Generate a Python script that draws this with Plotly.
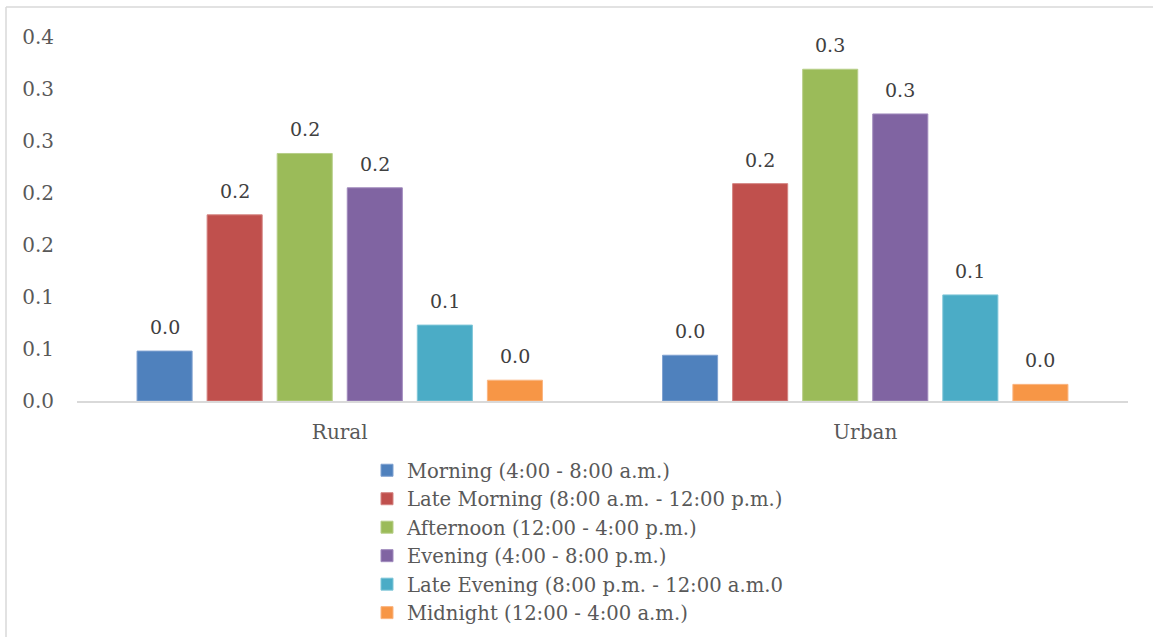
import plotly.graph_objects as go

categories = ["Rural", "Urban"]
series_names = [
    "Morning (4:00 - 8:00 a.m.)",
    "Late Morning (8:00 a.m. - 12:00 p.m.)",
    "Afternoon (12:00 - 4:00 p.m.)",
    "Evening (4:00 - 8:00 p.m.)",
    "Late Evening (8:00 p.m. - 12:00 a.m.0",
    "Midnight (12:00 - 4:00 a.m.)",
]
morning = [0.048, 0.044]
late_morning = [0.179, 0.209]
afternoon = [0.238, 0.319]
evening = [0.205, 0.276]
late_evening = [0.073, 0.102]
midnight = [0.020, 0.016]
series_values = [morning, late_morning, afternoon, evening, late_evening, midnight]

tick_vals = [0, 0.05, 0.10, 0.15, 0.20, 0.25, 0.30, 0.35]
tick_text = ["0.0", "0.1", "0.1", "0.2", "0.2", "0.3", "0.3", "0.4"]

colors = ["#4F81BD", "#C0504D", "#9BBB59", "#8064A2", "#4BACC6", "#F79646"]
edge = ["#7FA1D0", "#D48381", "#B7CE88", "#A08ABD", "#7FC6D8", "#FAB581"]

FONT = "DejaVu Serif"
W, H = 1153, 637
ML, MR, MT, MB = 77, 25, 37, 236
BARGAP = 0.2
N = len(series_names)

fig = go.Figure()
for name, vals, c, e in zip(series_names, series_values, colors, edge):
    fig.add_trace(go.Bar(
        x=categories, y=vals, name=name,
        marker=dict(color=c, line=dict(color=e, width=1)),
    ))

pw = W - ML - MR
ph = H - MT - MB
slot_px = pw / len(categories) * (1 - BARGAP) / N

def px_x(p):
    return (p - ML) / pw
def px_y(p):
    return (H - MB - p) / ph

annotations = []
for i, vals in enumerate(series_values):
    for cat, v in zip(categories, vals):
        annotations.append(dict(
            x=cat, y=v, xref="x", yref="y", text=f"{v:.1f}",
            showarrow=False, yanchor="bottom", xanchor="center",
            xshift=(i - (N - 1) / 2) * slot_px, yshift=11,
            font=dict(family=FONT, size=19, color="#404040"),
        ))

fig.update_layout(
    width=W, height=H,
    margin=dict(l=ML, r=MR, t=MT, b=MB, pad=0, autoexpand=False),
    paper_bgcolor="white", plot_bgcolor="white",
    barmode="group", bargap=BARGAP, bargroupgap=0.214,
    font=dict(family=FONT, color="#595959"),
    showlegend=True,
    legend=dict(
        orientation="v", x=px_x(367), xanchor="left", y=px_y(451), yanchor="top",
        font=dict(family=FONT, size=19.6, color="#595959"),
        bgcolor="rgba(0,0,0,0)", itemwidth=30,
    ),
    xaxis=dict(
        showline=True, linecolor="#D9D9D9", linewidth=1.5,
        showgrid=False, ticks="", zeroline=False,
        tickfont=dict(family=FONT, size=20, color="#595959"),
        ticklabelstandoff=12,
    ),
    yaxis=dict(
        range=[0, 0.35], tickvals=tick_vals, ticktext=tick_text,
        showgrid=False, zeroline=False, showline=False, ticks="",
        tickfont=dict(family=FONT, size=20, color="#595959"),
        ticklabelstandoff=22,
    ),
    annotations=annotations,
    shapes=[
        dict(type="line", xref="paper", yref="paper",
             x0=px_x(6), x1=px_x(1153), y0=px_y(7), y1=px_y(7),
             line=dict(color="#D9D9D9", width=1.5)),
        dict(type="line", xref="paper", yref="paper",
             x0=px_x(6), x1=px_x(6), y0=px_y(7), y1=px_y(637),
             line=dict(color="#D9D9D9", width=1.5)),
    ],
)

fig.write_html("out.html")
